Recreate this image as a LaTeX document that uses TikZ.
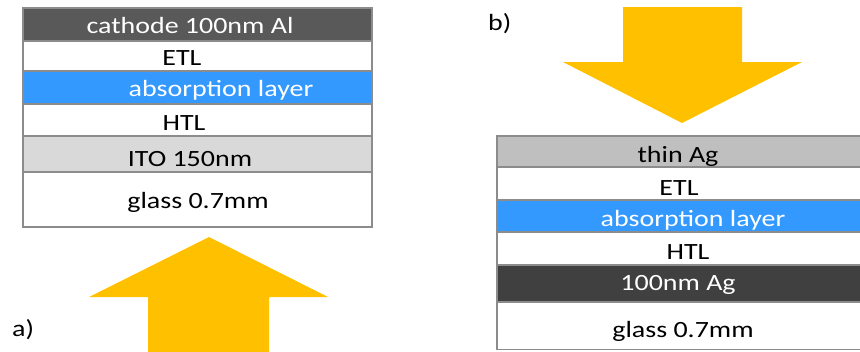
\documentclass[tikz,border=0pt]{standalone}
\usepackage{fontspec}
\setmainfont{Carlito}[FakeStretch=1.2]
\definecolor{cathodegray}{HTML}{595959}
\definecolor{absblue}{HTML}{3399FF}
\definecolor{itogray}{HTML}{D9D9D9}
\definecolor{thinag}{HTML}{BFBFBF}
\definecolor{thickag}{HTML}{404040}
\definecolor{edgegray}{HTML}{8C8C8C}
\definecolor{lightorange}{HTML}{FFC000}
\tikzset{
  layer/.style={draw=edgegray, line width=1.5pt},
  caption/.style={anchor=base, inner sep=0pt, font=\fontsize{23.3}{28}\selectfont},
  lighttext/.style={caption, text=white},
  lightbeam/.style={fill=lightorange, draw=none},
}
\begin{document}
\begin{tikzpicture}[x=1pt, y=-1pt]
\useasboundingbox (0,0) rectangle (860,351);
\clip (0,0) rectangle (860,351);

% ---- a) bottom-illuminated stack ----
\draw[layer, fill=cathodegray] (23,8)   rectangle (372,41);
\draw[layer, fill=white]       (23,41)  rectangle (372,71);
\draw[layer, fill=absblue]     (23,71)  rectangle (372,104);
\draw[layer, fill=white]       (23,104) rectangle (372,136);
\draw[layer, fill=itogray]     (23,136) rectangle (372,172);
\draw[layer, fill=white]       (23,172) rectangle (372,227);

\node[lighttext] (aCathode) at (190,33.3)  {cathode 100nm Al};
\node[caption]   (aEtl)     at (182,65)    {ETL};
\node[lighttext] (aAbs)     at (221,96.7)  {absorption layer};
\node[caption]   (aHtl)     at (184,130.7) {HTL};
\node[caption]   (aIto)     at (190,166.7) {ITO 150nm};
\node[caption]   (aGlass)   at (198,208)   {glass 0.7mm};

% light entering through the glass
\fill[lightbeam] (148,353) -- (148,297) -- (89,297) -- (209,237)
  -- (328,297) -- (269,297) -- (269,353) -- cycle;
\node[caption, anchor=base west] (aLabel) at (12,336) {a)};

% ---- b) top-illuminated stack ----
\draw[layer, fill=thinag]  (497,136) rectangle (864,167);
\draw[layer, fill=white]   (497,167) rectangle (864,200);
\draw[layer, fill=absblue] (497,200) rectangle (864,232);
\draw[layer, fill=white]   (497,232) rectangle (864,265);
\draw[layer, fill=thickag] (497,265) rectangle (864,302);
\draw[layer, fill=white]   (497,302) rectangle (864,349.5);

\node[caption]   (bThinAg) at (678,162.3) {thin Ag};
\node[caption]   (bEtl)    at (679,195)   {ETL};
\node[lighttext] (bAbs)    at (693,226)   {absorption layer};
\node[caption]   (bHtl)    at (688,259.3) {HTL};
\node[lighttext] (bAg)     at (678,290)   {100nm Ag};
\node[caption]   (bGlass)  at (683,337.7) {glass 0.7mm};

% light entering through the thin silver
\fill[lightbeam] (623,7) -- (742,7) -- (742,62) -- (802,62) -- (682,123)
  -- (563,62) -- (623,62) -- cycle;
\node[caption, anchor=base west] (bLabel) at (488,30) {b)};
\end{tikzpicture}
\end{document}
